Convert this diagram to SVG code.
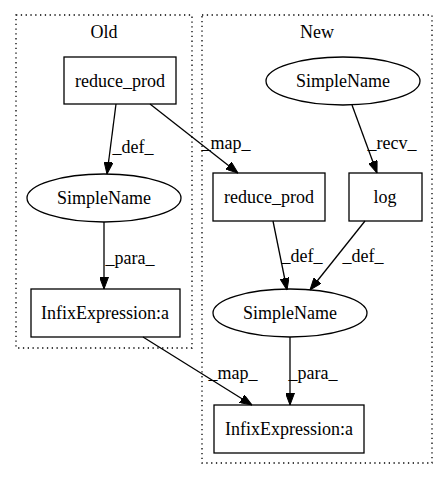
<svg xmlns="http://www.w3.org/2000/svg" width="448" height="480" viewBox="0 0 448 480" font-family="'Liberation Serif', 'DejaVu Serif', serif" font-size="18">
<defs>
<marker id="ah" markerWidth="12" markerHeight="9" refX="12" refY="4.5" orient="auto" markerUnits="userSpaceOnUse">
<polygon points="0,0 12,4.5 0,9" fill="#000" stroke="#000"/>
</marker>
<style>
text{fill:#000}
.n{fill:none;stroke:#000;stroke-width:1.3}
.c{fill:none;stroke:#000;stroke-width:1.3;stroke-dasharray:1.3,3.5}
.e{fill:none;stroke:#000;stroke-width:1.3;marker-end:url(#ah)}
</style>
</defs>
<rect width="448" height="480" fill="#fff"/>
<g id="cluster_old">
<rect class="c" x="16" y="15" width="176" height="333"/>
<text x="104" y="38" text-anchor="middle">Old</text>
</g>
<g id="cluster_new">
<rect class="c" x="202" y="15" width="230" height="448"/>
<text x="317" y="38" text-anchor="middle">New</text>
</g>
<g id="old_reduce_prod">
<rect class="n" x="64" y="57" width="112" height="47"/>
<text x="120" y="87" text-anchor="middle">reduce_prod</text>
</g>
<g id="old_simplename">
<ellipse class="n" cx="104" cy="198" rx="77" ry="24"/>
<text x="104" y="204" text-anchor="middle">SimpleName</text>
</g>
<g id="old_infix">
<rect class="n" x="31" y="289" width="149" height="48"/>
<text x="105" y="319" text-anchor="middle">InfixExpression:a</text>
</g>
<g id="new_simplename_top">
<ellipse class="n" cx="343" cy="81" rx="77" ry="24"/>
<text x="343" y="87" text-anchor="middle">SimpleName</text>
</g>
<g id="new_reduce_prod">
<rect class="n" x="213" y="173" width="112" height="48"/>
<text x="269" y="203" text-anchor="middle">reduce_prod</text>
</g>
<g id="new_log">
<rect class="n" x="349" y="173" width="73" height="48"/>
<text x="385" y="203" text-anchor="middle">log</text>
</g>
<g id="new_simplename">
<ellipse class="n" cx="290" cy="313" rx="77" ry="24"/>
<text x="290" y="319" text-anchor="middle">SimpleName</text>
</g>
<g id="new_infix">
<rect class="n" x="214" y="405" width="150" height="48"/>
<text x="289" y="435" text-anchor="middle">InfixExpression:a</text>
</g>
<g id="connectors">
<path class="e" d="M116,104 L107,174"/>
<text x="133" y="153" text-anchor="middle">_def_</text>
<path class="e" d="M104,222 L104,289"/>
<text x="130" y="264" text-anchor="middle">_para_</text>
<path class="e" d="M150,104 L238,173"/>
<text x="226" y="149" text-anchor="middle">_map_</text>
<path class="e" d="M352,105 L377,173"/>
<text x="392" y="149" text-anchor="middle">_recv_</text>
<path class="e" d="M273,221 L287,290"/>
<text x="302" y="262" text-anchor="middle">_def_</text>
<path class="e" d="M365,221 L310,290"/>
<text x="363" y="262" text-anchor="middle">_def_</text>
<path class="e" d="M290,337 L290,405"/>
<text x="313" y="379" text-anchor="middle">_para_</text>
<path class="e" d="M143,337 L252,405"/>
<text x="233" y="379" text-anchor="middle">_map_</text>
</g>
</svg>
